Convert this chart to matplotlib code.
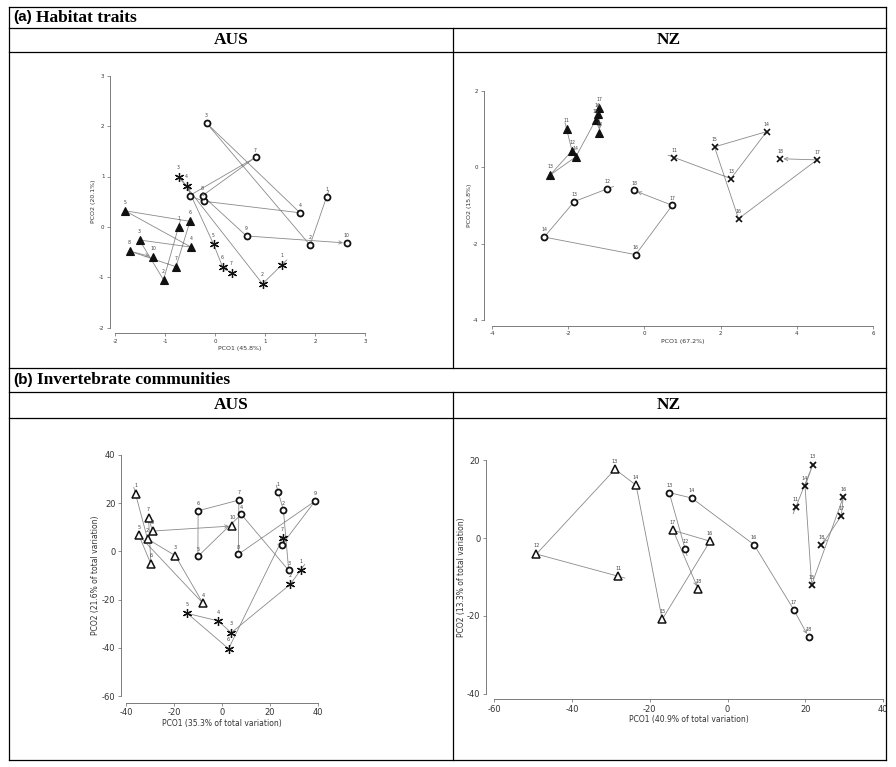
import matplotlib
matplotlib.use("Agg")
import matplotlib.pyplot as plt
from matplotlib.lines import Line2D
import numpy as np

plt.rcParams["axes.unicode_minus"] = False

# ---- (a) habitat traits, AUS ----
hab_aus_tri_lab = [1, 2, 3, 4, 5, 6, 7, 8, 10]
hab_aus_tri_x = [-0.73, -1.03, -1.51, -0.48, -1.80, -0.50, -0.78, -1.71, -1.24]
hab_aus_tri_y = [0.00, -1.05, -0.26, -0.40, 0.32, 0.11, -0.79, -0.48, -0.60]

hab_aus_cir_lab = [1, 2, 3, 4, 5, 6, 7, 8, 9, 10]
hab_aus_cir_x = [2.23, 1.90, -0.17, 1.70, -0.23, -0.51, 0.81, -0.25, 0.63, 2.63]
hab_aus_cir_y = [0.59, -0.36, 2.06, 0.28, 0.51, 0.62, 1.38, 0.62, -0.18, -0.32]

hab_aus_star_lab = [1, 2, 3, 4, 5, 6, 7]
hab_aus_star_x = [1.34, 0.95, -0.73, -0.57, -0.03, 0.15, 0.33]
hab_aus_star_y = [-0.75, -1.13, 1.00, 0.82, -0.34, -0.79, -0.91]

# ---- (a) habitat traits, NZ ----
hab_nz_tri_lab = [11, 12, 13, 14, 15, 16, 17, 18]
hab_nz_tri_x = [-2.04, -1.90, -2.48, -1.80, -1.28, -1.23, -1.19, -1.18]
hab_nz_tri_y = [0.99, 0.43, -0.21, 0.27, 1.23, 1.40, 1.54, 0.89]

hab_nz_cir_lab = [12, 13, 14, 16, 17, 18]
hab_nz_cir_x = [-0.98, -1.84, -2.63, -0.23, 0.73, -0.27]
hab_nz_cir_y = [-0.57, -0.90, -1.83, -2.29, -1.00, -0.61]

hab_nz_crs_lab = [11, 13, 14, 15, 16, 17, 18]
hab_nz_crs_x = [0.79, 2.27, 3.21, 1.84, 2.47, 4.53, 3.56]
hab_nz_crs_y = [0.25, -0.30, 0.93, 0.53, -1.35, 0.19, 0.22]

# ---- (b) invertebrate communities, AUS ----
inv_aus_tri_lab = [1, 2, 3, 4, 5, 6, 7, 8, 10]
inv_aus_tri_x = [-36.0, -31.0, -19.4, -7.9, -34.6, -29.6, -30.6, -28.9, 4.4]
inv_aus_tri_y = [23.7, 5.1, -1.8, -21.5, 6.6, -5.2, 13.9, 8.4, 10.5]

inv_aus_cir_lab = [1, 2, 3, 4, 5, 6, 7, 8, 9, 10]
inv_aus_cir_x = [23.5, 25.7, 27.9, 8.1, -10.0, -9.9, 7.1, 6.9, 38.9, 24.9]
inv_aus_cir_y = [24.6, 17.0, -7.9, 15.3, -2.1, 16.8, 21.2, -1.2, 20.8, 2.5]

inv_aus_star_lab = [1, 2, 3, 4, 5, 6, 7]
inv_aus_star_x = [32.9, 28.5, 3.9, -1.5, -14.4, 2.8, 25.4]
inv_aus_star_y = [-7.7, -13.7, -33.7, -28.8, -25.7, -40.3, 5.4]

# ---- (b) invertebrate communities, NZ ----
inv_nz_tri_lab = [11, 12, 13, 14, 15, 16, 17, 18]
inv_nz_tri_x = [-28.1, -49.1, -28.9, -23.5, -16.8, -4.5, -14.0, -7.5]
inv_nz_tri_y = [-9.8, -4.1, 17.7, 13.6, -20.9, -0.8, 2.0, -13.2]

inv_nz_cir_lab = [12, 13, 14, 16, 17, 18]
inv_nz_cir_x = [-10.9, -15.0, -9.2, 6.8, 17.0, 20.8]
inv_nz_cir_y = [-2.8, 11.7, 10.3, -1.7, -18.4, -25.4]

inv_nz_crs_lab = [11, 13, 14, 15, 16, 17, 18]
inv_nz_crs_x = [17.5, 21.9, 19.9, 21.6, 29.7, 29.2, 24.1]
inv_nz_crs_y = [7.9, 18.9, 13.3, -12.0, 10.5, 5.7, -1.9]

LINE = "#8a8a8a"
MK = "#111111"
ASTER = (6, 2, 0)

W, H = 896, 767
fig = plt.figure(figsize=(W / 100, H / 100), dpi=100)


def fx(px):
    return px / W


def fy(py):
    return 1 - py / H


def seg(x0, y0, x1, y1, lw=0.9):
    fig.add_artist(Line2D([fx(x0), fx(x1)], [fy(y0), fy(y1)], color="black", lw=lw))


# table frame
L, R = 9, 886
for y in [7, 28, 52, 368, 392, 418, 760]:
    seg(L, y, R, y)
seg(L, 7, L, 760)
seg(R, 7, R, 760)
seg(453, 28, 453, 368)
seg(453, 392, 453, 760)

renderer = fig.canvas.get_renderer()


def section_title(y, tag, rest):
    t = fig.text(fx(13), fy(y), tag, family="Liberation Sans", weight="bold",
                 fontsize=11, va="center", ha="left")
    bb = t.get_window_extent(renderer)
    fig.text(bb.x1 / W + fx(4), fy(y), rest, family="Liberation Serif", weight="bold",
             fontsize=12.5, va="center", ha="left")


section_title(17.5, "(a)", "Habitat traits")
section_title(380, "(b)", "Invertebrate communities")
for y in [40, 405]:
    fig.text(fx(231), fy(y), "AUS", family="Liberation Serif", weight="bold",
             fontsize=12.5, ha="center", va="center")
    fig.text(fx(669), fy(y), "NZ", family="Liberation Serif", weight="bold",
             fontsize=12.5, ha="center", va="center")


def panel(rect, xlim, ylim, xticks, yticks, xlabel, ylabel, offs, tick_fs, lab_fs, lpad):
    left, top, right, bottom = rect
    ax = fig.add_axes([left / W, 1 - bottom / H, (right - left) / W, (bottom - top) / H])
    ax.set_xlim(xlim)
    ax.set_ylim(ylim)
    ax.patch.set_visible(False)
    for s in ["top", "right"]:
        ax.spines[s].set_visible(False)
    ax.spines["left"].set_position(("outward", offs[0]))
    ax.spines["bottom"].set_position(("outward", offs[1]))
    ax.spines["left"].set_bounds(yticks[0], yticks[-1])
    ax.spines["bottom"].set_bounds(xticks[0], xticks[-1])
    for s in ["left", "bottom"]:
        ax.spines[s].set_color("#666666")
        ax.spines[s].set_linewidth(0.6)
    ax.set_xticks(xticks)
    ax.set_yticks(yticks)
    ax.tick_params(length=2.5, width=0.5, color="#666666", labelsize=tick_fs,
                   labelcolor="#333333", pad=1.5)
    ax.set_xlabel(xlabel, fontsize=lab_fs, color="#333333", labelpad=lpad[0])
    ax.set_ylabel(ylabel, fontsize=lab_fs, color="#333333", labelpad=lpad[1])
    return ax


def trajectory(ax, labs, xs, ys, marker, ms, mfc, mew, num_fs):
    xs = np.asarray(xs, float)
    ys = np.asarray(ys, float)
    ax.plot(xs[:-1], ys[:-1], color=LINE, lw=0.6, zorder=1)
    ax.annotate("", xy=(xs[-1], ys[-1]), xytext=(xs[-2], ys[-2]),
                arrowprops=dict(arrowstyle="->", color=LINE, lw=0.6, shrinkA=0,
                                shrinkB=2.5, mutation_scale=6), zorder=1)
    p0 = ax.transData.transform((xs[0], ys[0]))
    p1 = ax.transData.transform((xs[1], ys[1]))
    d = (p0 - p1) / np.hypot(*(p0 - p1))
    ax.annotate("", xy=(xs[0], ys[0]), xytext=(d[0] * 5, d[1] * 5), textcoords="offset points",
                arrowprops=dict(arrowstyle="-", color=LINE, lw=0.6, shrinkA=0, shrinkB=0))
    ax.plot(xs, ys, ls="none", marker=marker, ms=ms, mfc=mfc, mec=MK, mew=mew,
            zorder=3, clip_on=False)
    for lab, x, y in zip(labs, xs, ys):
        ax.annotate(str(lab), (x, y), xytext=(0, ms * 0.55 + 1), textcoords="offset points",
                    ha="center", va="bottom", fontsize=num_fs, color="#444444")


# (a) AUS
ax = panel((115, 75.7, 365, 327.7), (-2, 3), (-2, 3), [-2, -1, 0, 1, 2, 3],
           [-2, -1, 0, 1, 2, 3], "PCO1 (45.8%)", "PCO2 (20.1%)", (3.6, 3.8), 4, 4.5, (2, 2))
trajectory(ax, hab_aus_tri_lab, hab_aus_tri_x, hab_aus_tri_y, "^", 6, MK, 0.8, 3.3)
trajectory(ax, hab_aus_cir_lab, hab_aus_cir_x, hab_aus_cir_y, "o", 4.3, "white", 1.3, 3.3)
trajectory(ax, hab_aus_star_lab, hab_aus_star_x, hab_aus_star_y, ASTER, 6.5, MK, 0.9, 3.3)

# (a) NZ
ax = panel((492, 90.7, 873, 320), (-4, 6), (-4, 2), [-4, -2, 0, 2, 4, 6],
           [-4, -2, 0, 2], "PCO1 (67.2%)", "PCO2 (15.8%)", (5.8, 4), 4, 4.5, (2, 1))
trajectory(ax, hab_nz_tri_lab, hab_nz_tri_x, hab_nz_tri_y, "^", 6, MK, 0.8, 3.3)
trajectory(ax, hab_nz_cir_lab, hab_nz_cir_x, hab_nz_cir_y, "o", 4.3, "white", 1.3, 3.3)
trajectory(ax, hab_nz_crs_lab, hab_nz_crs_x, hab_nz_crs_y, "x", 4.5, MK, 1.2, 3.3)

# (b) AUS
ax = panel((126, 454.7, 317.7, 696.3), (-40, 40), (-60, 40), [-40, -20, 0, 20, 40],
           [-60, -40, -20, 0, 20, 40], "PCO1 (35.3% of total variation)",
           "PCO2 (21.6% of total variation)", (3.6, 4.6), 6, 5.5, (1, 1))
trajectory(ax, inv_aus_tri_lab, inv_aus_tri_x, inv_aus_tri_y, "^", 5.5, "white", 1.1, 3.5)
trajectory(ax, inv_aus_cir_lab, inv_aus_cir_x, inv_aus_cir_y, "o", 4.3, "white", 1.3, 3.5)
trajectory(ax, inv_aus_star_lab, inv_aus_star_x, inv_aus_star_y, ASTER, 6.5, MK, 0.9, 3.5)

# (b) NZ
ax = panel((494, 460.3, 883.3, 693.7), (-60, 40), (-40, 20), [-60, -40, -20, 0, 20, 40],
           [-40, -20, 0, 20], "PCO1 (40.9% of total variation)",
           "PCO2 (13.3% of total variation)", (5.8, 3.8), 6, 5.5, (1, 0.5))
trajectory(ax, inv_nz_tri_lab, inv_nz_tri_x, inv_nz_tri_y, "^", 5.5, "white", 1.1, 3.5)
trajectory(ax, inv_nz_cir_lab, inv_nz_cir_x, inv_nz_cir_y, "o", 4.3, "white", 1.3, 3.5)
trajectory(ax, inv_nz_crs_lab, inv_nz_crs_x, inv_nz_crs_y, "x", 5, MK, 1.3, 3.5)

fig.savefig("out.png", dpi=100)
